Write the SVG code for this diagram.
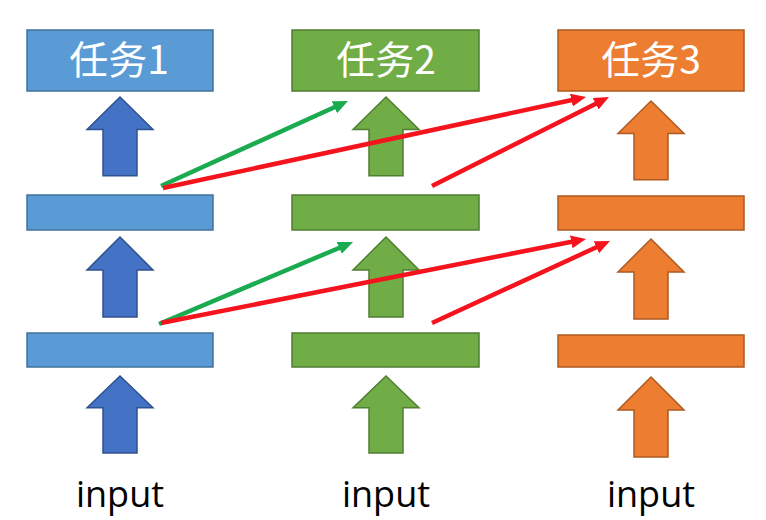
<svg xmlns="http://www.w3.org/2000/svg" width="766" height="520" viewBox="0 0 766 520">
<style>
.b{fill:#5B9BD5;stroke:#41719C;stroke-width:1.5}
.ba{fill:#4472C4;stroke:#2F528F;stroke-width:1.5}
.g{fill:#70AD47;stroke:#507E32;stroke-width:1.5}
.o{fill:#ED7D31;stroke:#AE5A21;stroke-width:1.5}
.t{font-family:"Noto Sans CJK SC","Noto Sans",sans-serif;font-size:39px;fill:#fff;text-anchor:middle}
.in{font-family:"Open Sans","Liberation Sans",sans-serif;font-size:36px;fill:#000;text-anchor:middle}
.gl{stroke:#1AAB50;stroke-width:4.5;fill:none;marker-end:url(#mg)}
.rl{stroke:#F5141E;stroke-width:4.5;fill:none;marker-end:url(#mr)}
</style>
<defs>
<path id="up" d="M0,0 L33,33 L17,33 L17,80 L-17,80 L-17,33 L-33,33 Z"/>
<marker id="mg" markerUnits="userSpaceOnUse" markerWidth="16" markerHeight="14" refX="3" refY="6.5" orient="auto"><path d="M0,0 L15,6.5 L0,13 Z" fill="#1AAB50"/></marker>
<marker id="mr" markerUnits="userSpaceOnUse" markerWidth="16" markerHeight="14" refX="3" refY="6.5" orient="auto"><path d="M0,0 L15,6.5 L0,13 Z" fill="#F5141E"/></marker>
</defs>
<g id="task1">
<rect class="b" x="27" y="30" width="186" height="61"/>
<text class="t" x="119" y="74">任务1</text>
<use href="#up" class="ba" transform="translate(120,97) scale(1,0.9857)"/>
<rect class="b" x="27" y="195" width="186" height="35"/>
<use href="#up" class="ba" transform="translate(120,237)"/>
<rect class="b" x="27" y="333" width="186" height="34"/>
<use href="#up" class="ba" transform="translate(120,376) scale(1,0.9625)"/>
<text class="in" x="120" y="507">input</text>
</g>
<g id="task2">
<rect class="g" x="292" y="30" width="187" height="61"/>
<text class="t" x="386" y="74">任务2</text>
<use href="#up" class="g" transform="translate(386,97) scale(1,0.9857)"/>
<rect class="g" x="292" y="195" width="187" height="35"/>
<use href="#up" class="g" transform="translate(386,237)"/>
<rect class="g" x="292" y="333" width="187" height="34"/>
<use href="#up" class="g" transform="translate(386,376) scale(1,0.9625)"/>
<text class="in" x="386" y="507">input</text>
</g>
<g id="task3">
<rect class="o" x="558" y="30" width="186" height="61"/>
<text class="t" x="651" y="74">任务3</text>
<use href="#up" class="o" transform="translate(651,101) scale(1,0.9857)"/>
<rect class="o" x="558" y="196" width="186" height="34"/>
<use href="#up" class="o" transform="translate(651,239)"/>
<rect class="o" x="558" y="335" width="186" height="32"/>
<use href="#up" class="o" transform="translate(651,377)"/>
<text class="in" x="651" y="507">input</text>
</g>
<g id="connectors">
<path class="gl" d="M161,186 L337.1,106"/>
<path class="rl" d="M163,188 L574.3,99.5"/>
<path class="rl" d="M432,186 L598.3,102.4"/>
<path class="gl" d="M159,324 L342,246.7"/>
<path class="rl" d="M161,323 L574.2,241.3"/>
<path class="rl" d="M432,323 L599.1,246"/>
</g>
</svg>
